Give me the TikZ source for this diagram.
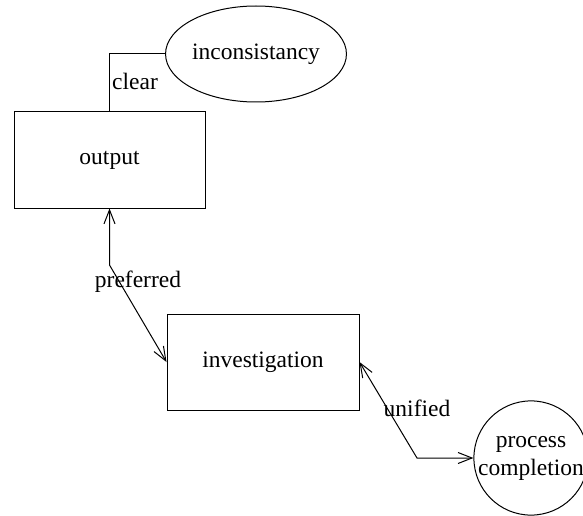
\documentclass[tikz,border=0pt]{standalone}
\usepackage{fontspec}
\setmainfont{Liberation Serif}
\usetikzlibrary{arrows.meta,shapes.geometric}
\begin{document}
\begin{tikzpicture}[x=1pt,y=-1pt,
  every node/.style={font=\fontsize{23.5}{27}\selectfont},
  box/.style={draw,line width=1pt,minimum width=191pt,minimum height=96pt,inner sep=0pt},
  oval/.style={draw,line width=1pt,ellipse,minimum width=178pt,minimum height=96pt,inner sep=0pt},
  round/.style={draw,line width=1pt,circle,minimum size=114pt,inner sep=0pt,align=center},
  conn/.style={line width=1pt},
  tip/.style={arrows={Straight Barb[length=14pt,width=11pt]-Straight Barb[length=14pt,width=11pt]}},
  lbl/.style={inner sep=0pt}]
\useasboundingbox (0,0) rectangle (583,516);
\node[oval] (inc) at (256,54) {inconsistancy};
\node[box] (out) at (109.5,160) {output};
\node[box,minimum width=192pt] (inv) at (263,362) {investigation};
\node[round] (pc) at (531,458) {process\\[1pt]completion};
\coordinate (c1) at (109.5,265);
\coordinate (c2) at (417,458);
\draw[conn] (out.north) |- (inc.west);
\draw[conn,tip] (out.south) -- (c1) -- (inv.west);
\draw[conn,tip] (inv.east) -- (c2) -- (pc.west);
\node[lbl] (lclear) at (135,81) {clear};
\node[lbl] (lpref) at (138,282) {preferred};
\node[lbl] (lunif) at (417,408) {unified};
\end{tikzpicture}
\end{document}
